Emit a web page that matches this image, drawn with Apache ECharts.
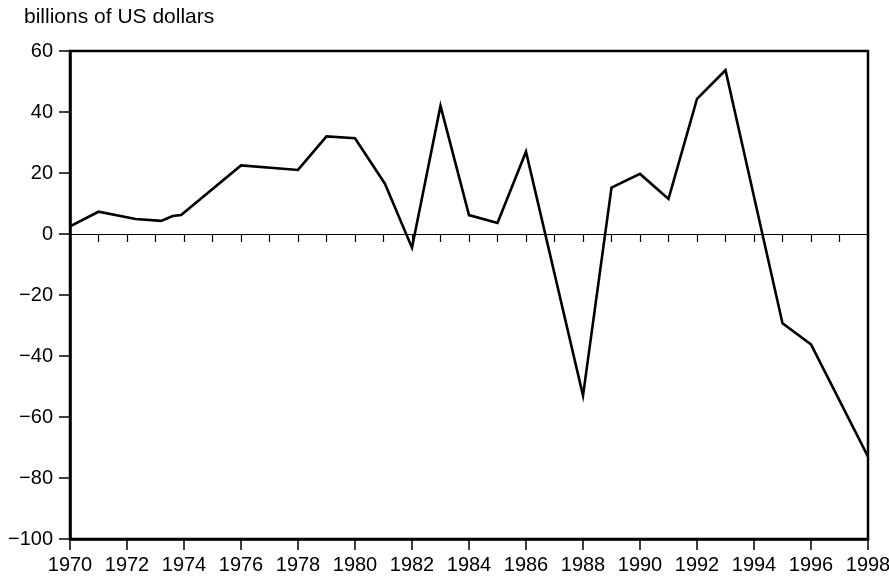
<!DOCTYPE html>
<html>
<head>
<meta charset="utf-8">
<script src="https://cdn.jsdelivr.net/npm/echarts@6/dist/echarts.min.js"></script>
<style>
  html, body { margin: 0; padding: 0; background: #fff; }
  #main { width: 889px; height: 578px; }
</style>
</head>
<body>
<div id="main"></div>
<script>
// data (x in decimal years)
const years = [1970, 1971, 1972.3, 1973.2, 1973.6, 1973.9, 1976, 1978, 1979, 1980, 1981.05, 1982, 1983, 1984, 1985, 1986, 1988, 1989, 1990, 1991, 1992, 1993, 1995, 1996, 1998]
const values = [2.5, 7.3, 4.9, 4.3, 5.9, 6.2, 22.5, 21, 32, 31.4, 16.5, -4.5, 42, 6.2, 3.6, 27, -53, 15.2, 19.7, 11.5, 44.3, 53.7, -29.3, -36.2, -73]
const yTicks = [-100, -80, -60, -40, -20, 0, 20, 40, 60]
const unitLabel = 'billions of US dollars'

const font = 'Liberation Sans, Arial, Helvetica, sans-serif'
const yMin = yTicks[0], yMax = yTicks[yTicks.length - 1]
const gridTop = 51, gridBottom = 39
const plotH = 578 - gridTop - gridBottom
// height of the upper part so its bottom edge sits on y = 0
const zeroH = Math.round(plotH * yMax / (yMax - yMin))

const chart = echarts.init(document.getElementById('main'), null, {renderer: 'canvas'})

const option = {
  animation: false,
  backgroundColor: '#fff',
  title: {
    text: unitLabel,
    left: 19,
    top: 2,
    textStyle: {fontFamily: font, fontSize: 21, fontWeight: 'normal', color: '#000'}
  },
  grid: [
    {left: 70, right: 21, top: gridTop, bottom: gridBottom, outerBoundsMode: 'none', containLabel: false,
      show: true, borderColor: '#000', borderWidth: 2.5},
    {left: 70, right: 21, top: gridTop, height: zeroH, outerBoundsMode: 'none', containLabel: false}
  ],
  xAxis: [
    {
      gridIndex: 0,
      type: 'value',
      min: 1970, max: 1998, interval: 2,
      axisLine: {show: true, onZero: false, lineStyle: {color: '#000', width: 2.5}},
      axisTick: {show: true, length: 11, lineStyle: {color: '#000', width: 1.5}},
      axisLabel: {margin: 16, fontFamily: font, fontSize: 20, color: '#000', formatter: v => String(v)},
      splitLine: {show: false}
    },
    {
      // zero line with yearly ticks
      gridIndex: 1,
      type: 'value',
      min: 1970, max: 1998, interval: 1,
      axisLine: {show: true, onZero: false, lineStyle: {color: '#000', width: 1.2}},
      axisTick: {show: true, length: 8, lineStyle: {color: '#000', width: 1.2}},
      axisLabel: {show: false},
      splitLine: {show: false}
    }
  ],
  yAxis: [
    {
      gridIndex: 0,
      type: 'value',
      min: yMin, max: yMax, interval: 20,
      axisLine: {show: true, lineStyle: {color: '#000', width: 2.5}},
      axisTick: {show: true, length: 11, lineStyle: {color: '#000', width: 1.5}},
      axisLabel: {
        margin: 17, fontFamily: font, fontSize: 20, color: '#000',
        formatter: v => String(v).replace('-', '\u2212')
      },
      splitLine: {show: false}
    },
    {
      gridIndex: 1,
      type: 'value',
      min: 0, max: 1,
      show: false
    }
  ],
  series: [
    {
      type: 'line',
      xAxisIndex: 0,
      yAxisIndex: 0,
      data: years.map((y, i) => [y, values[i]]),
      symbol: 'none',
      lineStyle: {color: '#000', width: 2.6, join: 'miter'},
      z: 5
    }
  ]
}

chart.setOption(option)
</script>
</body>
</html>
